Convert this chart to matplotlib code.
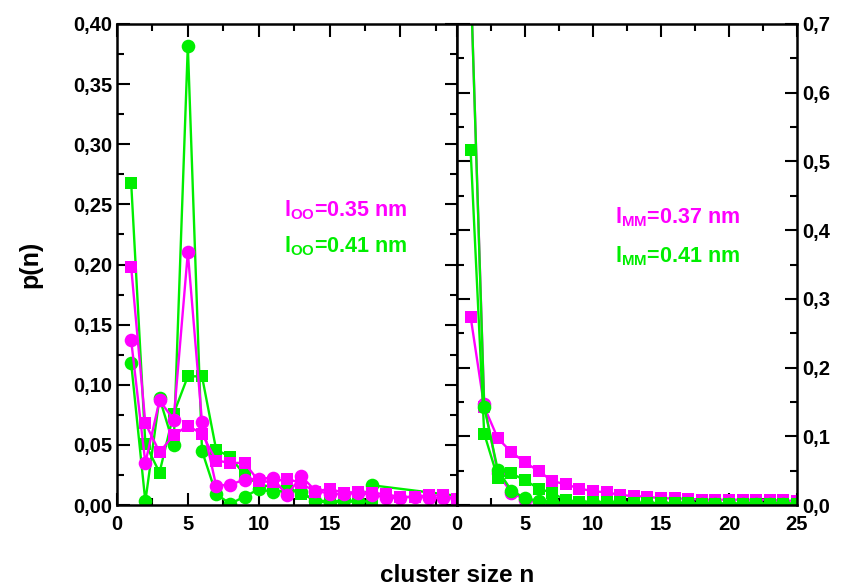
import matplotlib
matplotlib.use("Agg")
import matplotlib.pyplot as plt
from matplotlib.ticker import MultipleLocator, FuncFormatter

plt.rcParams['font.family'] = ['Liberation Sans', 'DejaVu Sans']
plt.rcParams['font.weight'] = 'bold'
plt.rcParams['mathtext.fontset'] = 'custom'
plt.rcParams['mathtext.rm'] = 'Liberation Sans:bold'
plt.rcParams['mathtext.it'] = 'Liberation Sans:bold'
plt.rcParams['mathtext.bf'] = 'Liberation Sans:bold'

MAGENTA = '#ff00ff'
GREEN = '#00ee00'

# ---- O-O clusters (left panel) ----
n_oo = list(range(1, 25))
p_oo35_sq = [0.198, 0.068, 0.044, 0.058, 0.066, 0.059, 0.037, 0.035, 0.035, 0.020,
             0.019, 0.022, 0.018, 0.011, 0.0136, 0.010, 0.011, 0.010, 0.009, 0.0065,
             0.007, 0.008, 0.008, 0.005]
p_oo35_ci = [0.137, 0.035, 0.087, 0.071, 0.210, 0.069, 0.016, 0.017, 0.021, 0.022,
             0.0225, 0.008, 0.024, 0.012, 0.0094, 0.009, 0.010, 0.0086, 0.006, 0.006,
             0.007, 0.006, 0.006, 0.005]
p_oo41_sq = [0.268, 0.051, 0.027, 0.076, 0.107, 0.107, 0.046, 0.040, 0.025, 0.017,
             0.015, 0.015, 0.0094, 0.004, 0.003, 0.0025, 0.003, 0.003]
n_oo41_ci = [1, 2, 3, 4, 5, 6, 7, 8, 9, 10, 11, 12, 13, 14, 15, 16, 17, 18, 26]
p_oo41_ci = [0.118, 0.003, 0.089, 0.050, 0.382, 0.045, 0.009, 0.001, 0.007, 0.013,
             0.011, 0.012, 0.011, 0.003, 0.002, 0.004, 0.003, 0.0164, 0.0047]

# ---- M-M clusters (right panel) ----
n_mm = list(range(1, 26))
p_mm37_sq = [0.274, 0.143, 0.097, 0.077, 0.062, 0.0495, 0.035, 0.030, 0.024, 0.020,
             0.0185, 0.0146, 0.013, 0.012, 0.0097, 0.0097, 0.009, 0.0078, 0.0078, 0.0078,
             0.0078, 0.0078, 0.0078, 0.0066, 0.006]
p_mm37_ci = [0.77, 0.147, 0.046, 0.018, 0.008, 0.004, 0.003, 0.002, 0.002, 0.002,
             0.002, 0.001, 0.001, 0.001, 0.001, 0.001, 0.001, 0.001, 0.001, 0.001,
             0.001, 0.001, 0.001, 0.001, 0.001]
p_mm41_sq = [0.517, 0.104, 0.039, 0.046, 0.036, 0.024, 0.0175, 0.007, 0.005, 0.005,
             0.004, 0.004, 0.003, 0.003, 0.003, 0.003, 0.003, 0.002, 0.002, 0.002,
             0.002, 0.002, 0.002, 0.002, 0.002]
p_mm41_ci = [0.77, 0.143, 0.051, 0.021, 0.010, 0.006, 0.004, 0.003, 0.003, 0.003,
             0.003, 0.002, 0.002, 0.002, 0.002, 0.002, 0.002, 0.002, 0.002, 0.002,
             0.002, 0.002, 0.002, 0.002, 0.002]

fig = plt.figure(figsize=(8.41, 5.86), dpi=100)
axL = fig.add_axes([117 / 841, 81 / 586, 340 / 841, 481 / 586])
axR = fig.add_axes([457 / 841, 81 / 586, 340 / 841, 481 / 586])

lw = 1.7
sq = dict(marker='s', markersize=8.3, lw=lw, markeredgewidth=0)
ci = dict(marker='o', markersize=9.8, lw=lw, markeredgewidth=0)

axL.plot(n_oo[:len(p_oo41_sq)], p_oo41_sq, color=GREEN, **sq)
axL.plot(n_oo41_ci, p_oo41_ci, color=GREEN, **ci)
axL.plot(n_oo, p_oo35_sq, color=MAGENTA, **sq)
axL.plot(n_oo, p_oo35_ci, color=MAGENTA, **ci)

axR.plot(n_mm, p_mm37_sq, color=MAGENTA, **sq)
axR.plot(n_mm, p_mm37_ci, color=MAGENTA, **ci)
axR.plot(n_mm, p_mm41_sq, color=GREEN, **sq)
axR.plot(n_mm, p_mm41_ci, color=GREEN, **ci)

axL.set_xlim(0, 24)
axL.set_ylim(0, 0.40)
axR.set_xlim(0, 25)
axR.set_ylim(0, 0.70)

def comma2(v, pos):
    return f"{v:.2f}".replace('.', ',')

def comma1(v, pos):
    return f"{v:.1f}".replace('.', ',')

tick_fs = 14.5
for ax in (axL, axR):
    ax.xaxis.set_major_locator(MultipleLocator(5))
    ax.xaxis.set_minor_locator(MultipleLocator(2.5))
    for s in ax.spines.values():
        s.set_linewidth(1.8)
    ax.tick_params(which='both', direction='in', top=True, bottom=True,
                   left=True, right=True, width=1.5, labelsize=tick_fs)
    ax.tick_params(which='major', length=9)
    ax.tick_params(which='minor', length=5)
    ax.tick_params(axis='x', pad=7)
    for lab in ax.get_xticklabels() + ax.get_yticklabels():
        lab.set_fontweight('bold')

axL.yaxis.set_major_locator(MultipleLocator(0.05))
axL.yaxis.set_minor_locator(MultipleLocator(0.025))
axL.yaxis.set_major_formatter(FuncFormatter(comma2))
axL.set_xticks([0, 5, 10, 15, 20])

axR.yaxis.set_major_locator(MultipleLocator(0.1))
axR.yaxis.set_minor_locator(MultipleLocator(0.05))
axR.yaxis.set_major_formatter(FuncFormatter(comma1))
axR.tick_params(axis='y', labelleft=False, labelright=True)

axL.set_ylabel('p(n)', fontsize=18, fontweight='bold', labelpad=22)
fig.text(457 / 841, 1 - 576 / 586, 'cluster size n', fontsize=17.5,
         fontweight='bold', ha='center', va='center')

txt_fs = 15.5
axL.text(0.49, 0.600, r'l$_{\mathrm{OO}}$=0.35 nm', color=MAGENTA, fontsize=txt_fs,
         fontweight='bold', transform=axL.transAxes)
axL.text(0.49, 0.525, r'l$_{\mathrm{OO}}$=0.41 nm', color=GREEN, fontsize=txt_fs,
         fontweight='bold', transform=axL.transAxes)
axR.text(0.465, 0.585, r'l$_{\mathrm{MM}}$=0.37 nm', color=MAGENTA, fontsize=txt_fs,
         fontweight='bold', transform=axR.transAxes)
axR.text(0.465, 0.505, r'l$_{\mathrm{MM}}$=0.41 nm', color=GREEN, fontsize=txt_fs,
         fontweight='bold', transform=axR.transAxes)

fig.savefig('out.png', dpi=100)
